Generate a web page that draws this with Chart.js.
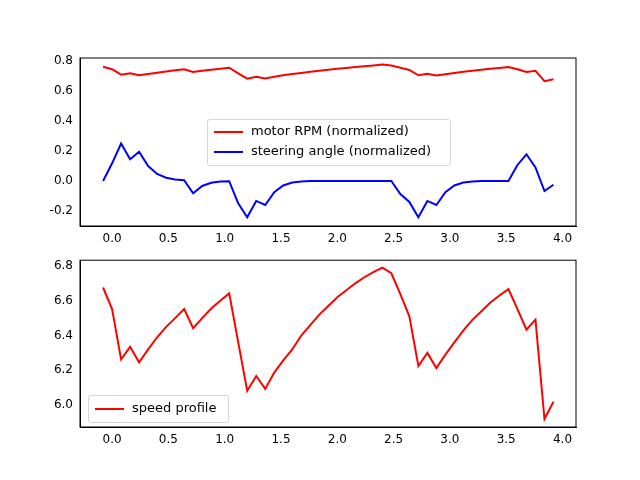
<!DOCTYPE html>
<html>
<head>
<meta charset="utf-8">
<script src="https://cdn.jsdelivr.net/npm/chart.js@4"></script>
<style>
  body { margin: 0; background: #fff; width: 640px; height: 480px; position: relative; overflow: hidden; font-family: "DejaVu Sans", sans-serif; }
  .wrap { position: absolute; left: 0; width: 640px; }
  .legend { position: absolute; background: rgba(255,255,255,0.8); border: 1px solid #d6d6d6; border-radius: 3px; font-size: 13px; color: #000; }
  .legend .row { position: absolute; left: 0; white-space: nowrap; }
  .legend .sw { display: inline-block; width: 29px; height: 2px; vertical-align: middle; margin: 0 8px 0 6px; }
</style>
</head>
<body>
<div class="wrap" style="top:0;height:250px"><canvas id="top"></canvas></div>
<div class="wrap" style="top:250px;height:230px"><canvas id="bottom"></canvas></div>

<div class="legend" style="left:207px;top:119px;width:242px;height:45px">
  <div class="row" style="top:3px"><span class="sw" style="background:#ff0000"></span>motor RPM (normalized)</div>
  <div class="row" style="top:23px"><span class="sw" style="background:#0000ff"></span>steering angle (normalized)</div>
</div>
<div class="legend" style="left:88px;top:395px;width:139px;height:26px">
  <div class="row" style="top:4px"><span class="sw" style="background:#ff0000"></span>speed profile</div>
</div>

<script>
var t0 = -0.08;
var dt = 0.08;

var xTicks = [0, 0.5, 1, 1.5, 2, 2.5, 3, 3.5, 4];
var topTicks = [-0.2, 0, 0.2, 0.4, 0.6, 0.8];
var bottomTicks = [6.0, 6.2, 6.4, 6.6, 6.8];

var motorRpm = [0.762, 0.745, 0.709, 0.718, 0.705, 0.713, 0.722, 0.730, 0.738, 0.745,
    0.727, 0.735, 0.742, 0.749, 0.755, 0.718, 0.682, 0.695, 0.684, 0.695,
    0.705, 0.713, 0.720, 0.728, 0.735, 0.742, 0.748, 0.754, 0.760, 0.765,
    0.770, 0.776, 0.770, 0.755, 0.740, 0.705, 0.715, 0.703, 0.712, 0.720,
    0.728, 0.735, 0.742, 0.748, 0.754, 0.760, 0.745, 0.727, 0.735, 0.665, 0.678];

var steering = [0, 0.118, 0.25, 0.145, 0.195, 0.10, 0.047, 0.022, 0.01, 0.005,
    -0.082, -0.033, -0.012, -0.003, -0.001, -0.149, -0.242, -0.133, -0.16, -0.075,
    -0.03, -0.01, -0.003, 0, 0, 0, 0, 0, 0, 0,
    0, 0, 0, -0.087, -0.14, -0.242, -0.133, -0.16, -0.075, -0.03,
    -0.01, -0.003, 0, 0, 0, 0, 0.107, 0.178, 0.09, -0.067, -0.025];

var speed = [6.676, 6.552, 6.263, 6.335, 6.246, 6.32, 6.39, 6.45, 6.50, 6.552,
    6.442, 6.50, 6.555, 6.60, 6.642, 6.362, 6.082, 6.167, 6.093, 6.187,
    6.257, 6.32, 6.40, 6.46, 6.52, 6.57, 6.62, 6.66, 6.70, 6.735,
    6.765, 6.79, 6.758, 6.638, 6.51, 6.225, 6.30, 6.213, 6.29, 6.36,
    6.43, 6.49, 6.54, 6.59, 6.63, 6.667, 6.552, 6.434, 6.491, 5.92, 6.019];

function toPoints(vals) {
    return vals.map(function (v, i) { return { x: t0 + dt * i, y: v }; });
}

var font = { family: 'DejaVu Sans', size: 12 };

function setTicks(list) {
    return function (s) { s.ticks = list.map(function (v) { return { value: v }; }); };
}

function axes(ymin, ymax, yTicks, xh) {
    return {
        x: {
            type: 'linear', min: -0.285, max: 4.12,
            grid: { display: false, drawTicks: true, tickLength: 4, color: '#000' },
            border: { color: '#000' },
            afterBuildTicks: setTicks(xTicks),
            ticks: { color: '#000', font: font, padding: 2, autoSkip: false, maxRotation: 0,
                callback: function (v) { return v.toFixed(1); } },
            afterFit: function (s) { s.height = xh; }
        },
        y: {
            min: ymin, max: ymax,
            grid: { display: false, drawTicks: true, tickLength: 4, color: '#000' },
            border: { color: '#000' },
            afterBuildTicks: setTicks(yTicks),
            ticks: { color: '#000', font: font, padding: 3, autoSkip: false,
                callback: function (v) { return v.toFixed(1); } },
            afterFit: function (s) { s.width = 80; }
        }
    };
}

var frame = {
    id: 'frame',
    afterDraw: function (c) {
        var a = c.chartArea, ctx = c.ctx;
        ctx.save();
        ctx.strokeStyle = '#000';
        ctx.lineWidth = 1;
        ctx.strokeRect(a.left, a.top, a.right - a.left, a.bottom - a.top);
        ctx.restore();
    }
};

function line(vals, color) {
    return { data: toPoints(vals), borderColor: color, borderWidth: 2,
        pointRadius: 0, fill: false, tension: 0 };
}

new Chart(document.getElementById('top'), {
    type: 'line',
    data: { datasets: [line(motorRpm, '#ff0000'), line(steering, '#0000ff')] },
    options: {
        responsive: true, maintainAspectRatio: false, animation: false,
        layout: { padding: { left: 0, right: 64, top: 58, bottom: 0 } },
        plugins: { legend: { display: false }, tooltip: { enabled: false } },
        scales: axes(-0.3, 0.82, topTicks, 24)
    },
    plugins: [frame]
});

new Chart(document.getElementById('bottom'), {
    type: 'line',
    data: { datasets: [line(speed, '#ff0000')] },
    options: {
        responsive: true, maintainAspectRatio: false, animation: false,
        layout: { padding: { left: 0, right: 64, top: 9, bottom: 29 } },
        plugins: { legend: { display: false }, tooltip: { enabled: false } },
        scales: axes(5.874, 6.833, bottomTicks, 24)
    },
    plugins: [frame]
});
</script>
</body>
</html>
